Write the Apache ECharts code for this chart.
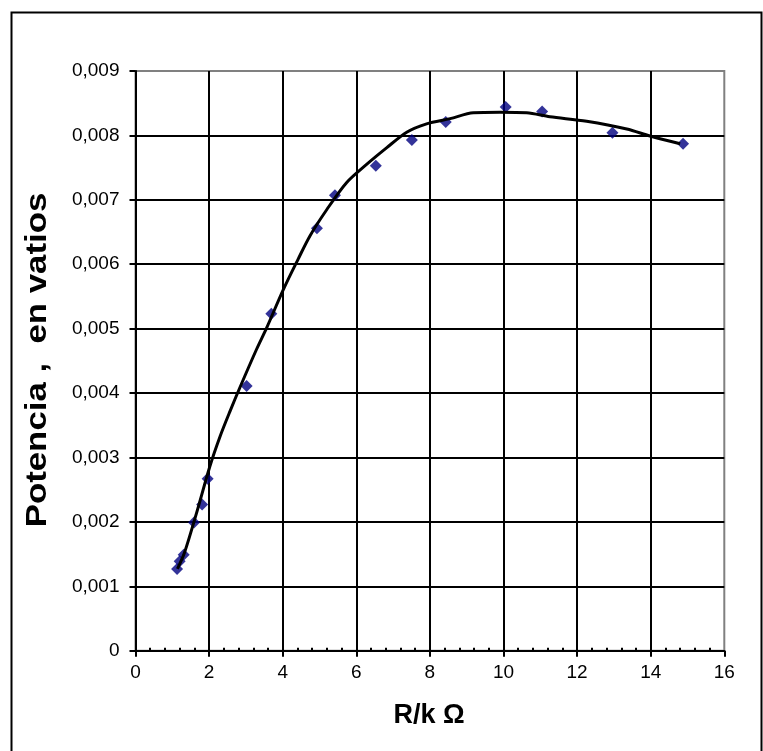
<!DOCTYPE html>
<html>
<head>
<meta charset="utf-8">
<script src="https://cdn.jsdelivr.net/npm/echarts@6/dist/echarts.min.js"></script>
<style>
html,body{margin:0;padding:0;background:#fff;}
#chart{width:763px;height:751px;}
</style>
</head>
<body>
<div id="chart"></div>
<script>
// Measured points (R in kΩ, power in W)
var pointR = [1.13, 1.20, 1.31, 1.59, 1.81, 1.96, 3.02, 3.69, 4.93, 5.42, 6.53, 7.51, 8.43, 10.06, 11.05, 12.96, 14.88];
var pointP = [0.00127, 0.00139, 0.00149, 0.00199, 0.00227, 0.00267, 0.00411, 0.00523, 0.00656, 0.00707, 0.00753, 0.00793, 0.00821, 0.00844, 0.00837, 0.00804, 0.00787];

// Fitted curve
var curveR = [1.14, 1.33, 1.66, 2.02, 2.30, 2.57, 2.84, 3.29, 3.57, 4.02, 4.42, 4.74, 5.20, 5.74, 6.28, 6.83, 7.37, 7.91, 8.55, 9.18, 9.90, 10.63, 11.26, 12.26, 13.35, 13.98, 14.80];
var curveP = [0.00127, 0.00152, 0.00214, 0.00286, 0.00333, 0.00372, 0.00409, 0.00468, 0.00502, 0.00561, 0.00608, 0.00644, 0.00685, 0.00727, 0.00755, 0.00781, 0.00805, 0.00818, 0.00826, 0.00835, 0.00836, 0.00835, 0.00829, 0.00822, 0.00810, 0.00799, 0.00787];

var xTickLabels = ['0', '2', '4', '6', '8', '10', '12', '14', '16'];
var yTickLabels = ['0', '0,001', '0,002', '0,003', '0,004', '0,005', '0,006', '0,007', '0,008', '0,009'];

var xName = 'R/k \u03A9';
var yName = 'Potencia ,  en vatios';

var FONT = '"Liberation Sans", Arial, sans-serif';

var chart = echarts.init(document.getElementById('chart'), null, {renderer: 'canvas'});

var scatterData = pointR.map(function (r, i) { return [r, pointP[i]]; });
var curveData = curveR.map(function (r, i) { return [r, curveP[i]]; });

var option = {
  animation: false,
  backgroundColor: '#ffffff',
  grid: {
    left: 135.5, right: 38.7, top: 71, bottom: 100.3,
    show: true, borderColor: '#808080', borderWidth: 2, backgroundColor: 'transparent'
  },
  xAxis: [{
    type: 'value', min: 0, max: 16, interval: 2,
    axisLine: {show: true, onZero: false, lineStyle: {color: '#000', width: 2}},
    axisTick: {show: true, inside: false, length: 6, lineStyle: {color: '#000', width: 2}},
    axisLabel: {
      color: '#000', fontFamily: FONT, fontSize: 19, margin: 13,
      formatter: function (v) { return xTickLabels[Math.round(v / 2)]; }
    },
    splitLine: {show: true, showMinLine: false, showMaxLine: false, lineStyle: {color: '#000', width: 2}}
  }, {
    type: 'value', min: 0, max: 16, interval: 2, position: 'bottom',
    axisLine: {show: false},
    axisTick: {show: false, inside: true},
    axisLabel: {show: false},
    splitLine: {show: false},
    minorTick: {show: true, splitNumber: 5, length: 3, lineStyle: {color: '#000', width: 2}}
  }],
  yAxis: {
    type: 'value', min: 0, max: 0.009, interval: 0.001,
    axisLine: {show: true, onZero: false, lineStyle: {color: '#000', width: 2}},
    axisTick: {show: true, inside: false, length: 6, lineStyle: {color: '#000', width: 2}},
    axisLabel: {
      color: '#000', fontFamily: FONT, fontSize: 19, margin: 16,
      formatter: function (v) { return yTickLabels[Math.round(v / 0.001)]; }
    },
    splitLine: {show: true, showMinLine: false, showMaxLine: false, lineStyle: {color: '#000', width: 2}}
  },
  graphic: [
    {type: 'rect', left: 9, top: 10, shape: {width: 750, height: 760},
     style: {fill: 'none', stroke: '#000', lineWidth: 2}, silent: true, z: 100},
    {type: 'text', x: 38, y: 360, rotation: Math.PI / 2, scaleX: 1.2,
     style: {text: yName, font: 'bold 29px ' + FONT, fill: '#000', align: 'center', verticalAlign: 'middle'}},
    {type: 'text', x: 429, y: 716,
     style: {text: xName, font: 'bold 27px ' + FONT, fill: '#000', align: 'center', verticalAlign: 'middle'}}
  ],
  series: [{
    type: 'scatter', data: scatterData, symbol: 'diamond', symbolSize: 12,
    itemStyle: {color: '#000080'}, z: 3
  }, {
    type: 'line', data: curveData, smooth: 0.3, showSymbol: false, symbol: 'none',
    lineStyle: {color: '#000', width: 3}, z: 4
  }]
};
chart.setOption(option);
</script>
</body>
</html>
